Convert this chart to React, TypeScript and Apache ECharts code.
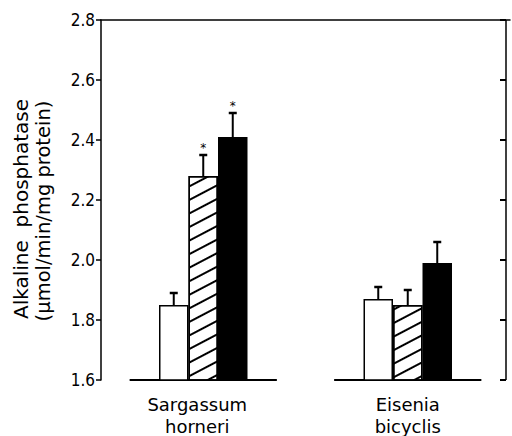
import React, { useEffect, useRef } from "react";
import * as echarts from "echarts";

const categories = ["Sargassum\nhorneri", "Eisenia\nbicyclis"];
const controlValues = [1.85, 1.87];
const controlErr = [0.04, 0.04];
const hatchedValues = [2.28, 1.85];
const hatchedErr = [0.07, 0.05];
const blackValues = [2.41, 1.99];
const blackErr = [0.08, 0.07];
const hatchedSig = [true, false];
const blackSig = [true, false];
const yMin = 1.6;
const yMax = 2.8;
const yStep = 0.2;
// tick values of the neighbouring panel's y axis, cut off at the right edge
const neighbourTicks = [1.6, 1.8, 2.0, 2.2, 2.4, 2.6, 2.8];

const BAR_W = 29.5;

function errorSeries(values: number[], errs: number[], sig: boolean[] | null, offset: number) {
  return {
    type: "custom",
    z: 5,
    data: values.map((v, i) => [i, v, errs[i], sig && sig[i] ? 1 : 0]),
    renderItem: (params: any, api: any) => {
      const base = api.coord([api.value(0), api.value(1)]);
      const top = api.coord([api.value(0), api.value(1) + api.value(2)]);
      const x = base[0] + offset;
      const children: any[] = [
        { type: "line", shape: { x1: x, y1: base[1], x2: x, y2: top[1] }, style: { stroke: "#000", lineWidth: 2 } },
        { type: "line", shape: { x1: x - 4, y1: top[1], x2: x + 4, y2: top[1] }, style: { stroke: "#000", lineWidth: 2.5 } },
      ];
      if (api.value(3)) {
        children.push({
          type: "text",
          style: { text: "*", x, y: top[1] - 7, align: "center", verticalAlign: "middle", fontSize: 12, fill: "#000", fontFamily: "DejaVu Sans" },
        });
      }
      return { type: "group", children };
    },
  };
}

export default function App() {
  const ref = useRef<HTMLDivElement>(null);
  useEffect(() => {
    const chart = echarts.init(ref.current!, null, { renderer: "svg" });
    chart.setOption({
      animation: false,
      grid: { left: 101, right: 2, top: 20, bottom: 56, outerBoundsMode: "none" },
      xAxis: [
        {
          type: "category",
          data: categories.map((c, i) =>
            i === 0 ? { value: c, textStyle: { padding: [0, 12, 0, 0] } } : c
          ),
          position: "bottom",
          axisLine: { show: false },
          axisTick: { show: false },
          axisLabel: { color: "#000", fontSize: 18, lineHeight: 22, fontFamily: "DejaVu Sans", margin: 13 },
        },
        {
          type: "category",
          data: categories,
          position: "top",
          axisLine: { show: true, lineStyle: { color: "#000", width: 1.5 } },
          axisTick: { show: false },
          axisLabel: { show: false },
        },
      ],
      yAxis: {
        type: "value",
        min: yMin,
        max: yMax,
        interval: yStep,
        splitLine: { show: false },
        position: "left",
        axisLine: { show: true, lineStyle: { color: "#000", width: 1.5 } },
        axisTick: { show: true, length: 5, lineStyle: { color: "#000", width: 1.5 } },
        axisLabel: {
          color: "#000",
          fontSize: 17,
          fontFamily: "DejaVu Sans Condensed, DejaVu Sans",
          margin: 6,
          formatter: (v: number) => v.toFixed(1),
        },
      },
      graphic: [
        {
          type: "text",
          x: 21,
          y: 209,
          rotation: Math.PI / 2,
          style: { text: "Alkaline  phosphatase", fontSize: 20, fontFamily: "DejaVu Sans", fill: "#000", align: "center", verticalAlign: "middle" },
        },
        {
          type: "text",
          x: 43,
          y: 211,
          rotation: Math.PI / 2,
          style: { text: "(\u00b5mol/min/mg protein)", fontSize: 19.5, fontFamily: "DejaVu Sans", fill: "#000", align: "center", verticalAlign: "middle" },
        },
      ],
      series: [
        {
          type: "custom",
          z: 1,
          data: categories.map((_, i) => [i, yMin]),
          renderItem: (params: any, api: any) => {
            const c = api.coord([api.value(0), api.value(1)]);
            const half = api.size([1, 0])[0] * 0.36;
            return { type: "line", shape: { x1: c[0] - half, y1: c[1], x2: c[0] + half, y2: c[1] }, style: { stroke: "#000", lineWidth: 2 } };
          },
        },
        {
          // neighbouring panel's axis at the right edge
          type: "custom",
          z: 6,
          clip: false,
          data: neighbourTicks.map((v) => [1, v]),
          renderItem: (params: any, api: any) => {
            const cs = params.coordSys;
            const xr = cs.x + cs.width - 4;
            const y = api.coord([1, api.value(1)])[1];
            const children: any[] = [
              { type: "line", shape: { x1: xr - 6, y1: y, x2: xr, y2: y }, style: { stroke: "#000", lineWidth: 2 } },
            ];
            if (params.dataIndex === 0) {
              const yTop = api.coord([1, yMax])[1];
              children.push({ type: "line", shape: { x1: xr, y1: y, x2: xr, y2: yTop }, style: { stroke: "#000", lineWidth: 1.5 } });
            }
            return { type: "group", children };
          },
        },
        {
          type: "bar",
          data: controlValues,
          barWidth: BAR_W,
          barGap: "0%",
          z: 3,
          itemStyle: { color: "#fff", borderColor: "#000", borderWidth: 1.5 },
        },
        {
          type: "bar",
          data: hatchedValues,
          barWidth: BAR_W,
          barGap: "0%",
          z: 3,
          itemStyle: {
            color: "#fff",
            borderColor: "#000",
            borderWidth: 1.5,
            decal: {
              symbol: "rect",
              symbolSize: 1,
              color: "#000",
              dashArrayX: [1, 0],
              dashArrayY: [1.6, 9.4],
              rotation: -Math.PI / 6.5,
            },
          },
        },
        {
          type: "bar",
          data: blackValues,
          barWidth: BAR_W,
          barGap: "0%",
          z: 3,
          itemStyle: { color: "#000", borderColor: "#000", borderWidth: 1.5 },
        },
        errorSeries(controlValues, controlErr, null, -BAR_W),
        errorSeries(hatchedValues, hatchedErr, hatchedSig, 0),
        errorSeries(blackValues, blackErr, blackSig, BAR_W),
      ],
    });
    return () => chart.dispose();
  }, []);
  return <div ref={ref} style={{ width: 512, height: 436, position: "absolute", left: 0, top: 0 }} />;
}
